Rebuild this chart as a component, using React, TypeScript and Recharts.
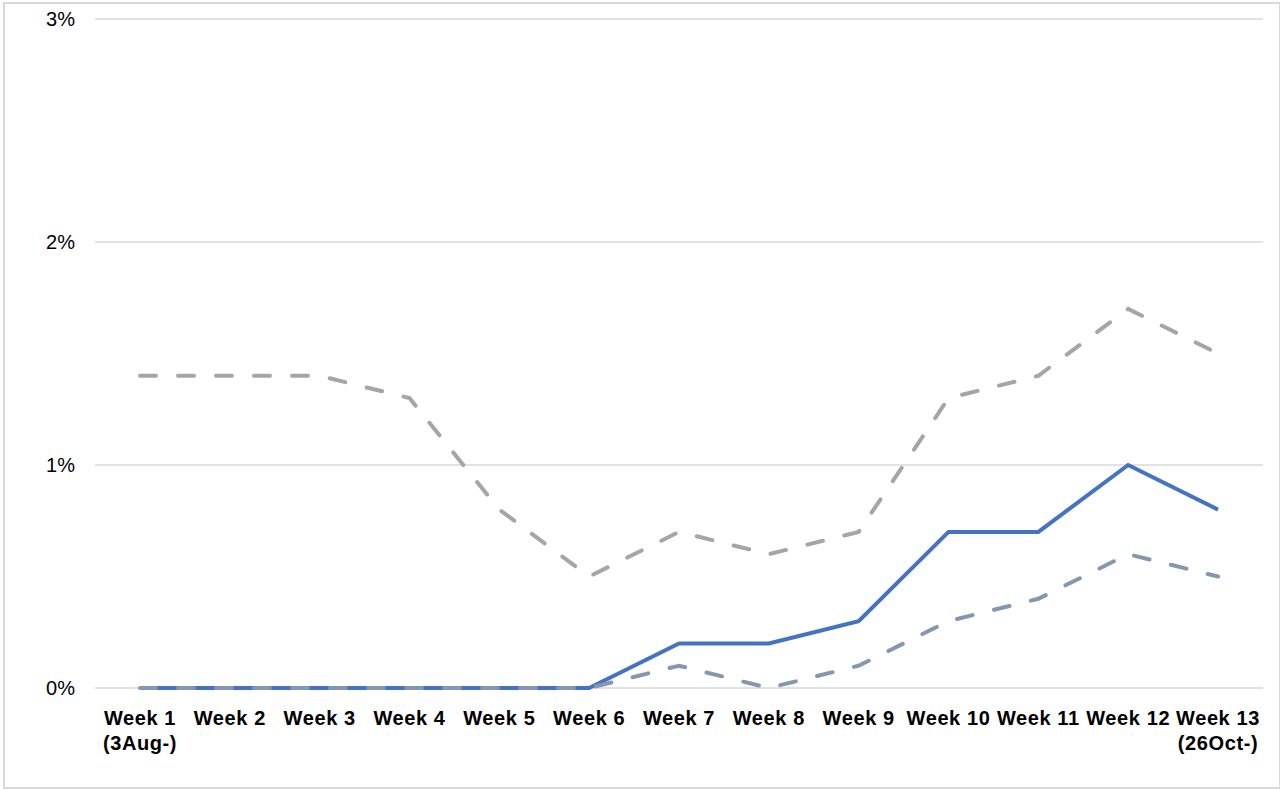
import { LineChart, Line, XAxis, YAxis, CartesianGrid } from 'recharts';

// weekly share (%)
const weeks = [
  'Week 1|(3Aug-)', 'Week 2', 'Week 3', 'Week 4', 'Week 5', 'Week 6', 'Week 7',
  'Week 8', 'Week 9', 'Week 10', 'Week 11', 'Week 12', 'Week 13|(26Oct-)',
];
const rate = [0, 0, 0, 0, 0, 0, 0.2, 0.2, 0.3, 0.7, 0.7, 1.0, 0.8];
const upper = [1.4, 1.4, 1.4, 1.3, 0.8, 0.5, 0.7, 0.6, 0.7, 1.3, 1.4, 1.7, 1.5];
const lower = [0, 0, 0, 0, 0, 0, 0.1, 0, 0.1, 0.3, 0.4, 0.6, 0.5];
const yTicks = [0, 1, 2, 3];

const data = weeks.map((week, i) => ({ week, rate: rate[i], upper: upper[i], lower: lower[i] }));

const font = 'Arial, "Liberation Sans", sans-serif';

const WeekTick = ({ x, y, payload }: any) => {
  const lines = String(payload.value).split('|');
  return (
    <text x={x} y={y} textAnchor="middle" fontFamily={font} fontSize={20} fontWeight="bold" fill="#000" letterSpacing={0.6}>
      {lines.map((l, i) => (
        <tspan key={i} x={x} dy={i === 0 ? 37 : 25}>{l}</tspan>
      ))}
    </text>
  );
};

const App = () => {
  return (
    <div style={{ position: 'absolute', left: 0, top: 0, width: 1280, height: 790, background: '#fff' }}>
      <div style={{ position: 'absolute', left: 3, top: 2, width: 1274, height: 783, border: '2px solid #d9d9d9' }} />
      <div style={{ position: 'absolute', left: 0, top: 0 }}>
        <LineChart width={1280} height={790} data={data} margin={{ top: 19, right: 17, bottom: 0, left: 0 }}>
          <CartesianGrid vertical={false} stroke="#d9d9d9" strokeWidth={1.5} />
          <XAxis
            dataKey="week"
            axisLine={false}
            tickLine={false}
            tickSize={0}
            tickMargin={0}
            height={102}
            interval={0}
            padding={{ left: 45, right: 45 }}
            tick={<WeekTick />}
          />
          <YAxis
            domain={[0, 3]}
            ticks={yTicks}
            axisLine={false}
            tickLine={false}
            tickSize={0}
            tickMargin={20}
            width={95}
            tickFormatter={(v: number) => `${v}%`}
            tick={{ fontFamily: font, fontSize: 20, fill: '#000' }}
          />
          <Line type="linear" dataKey="rate" stroke="#4472C4" strokeWidth={4} dot={false} isAnimationActive={false} />
          <Line type="linear" dataKey="lower" stroke="#8497B0" strokeWidth={4} strokeDasharray="16 22" strokeLinecap="round" dot={false} isAnimationActive={false} />
          <Line type="linear" dataKey="upper" stroke="#A5A5A5" strokeWidth={4} strokeDasharray="16 22" strokeLinecap="round" dot={false} isAnimationActive={false} />
        </LineChart>
      </div>
    </div>
  );
};

export default App;
